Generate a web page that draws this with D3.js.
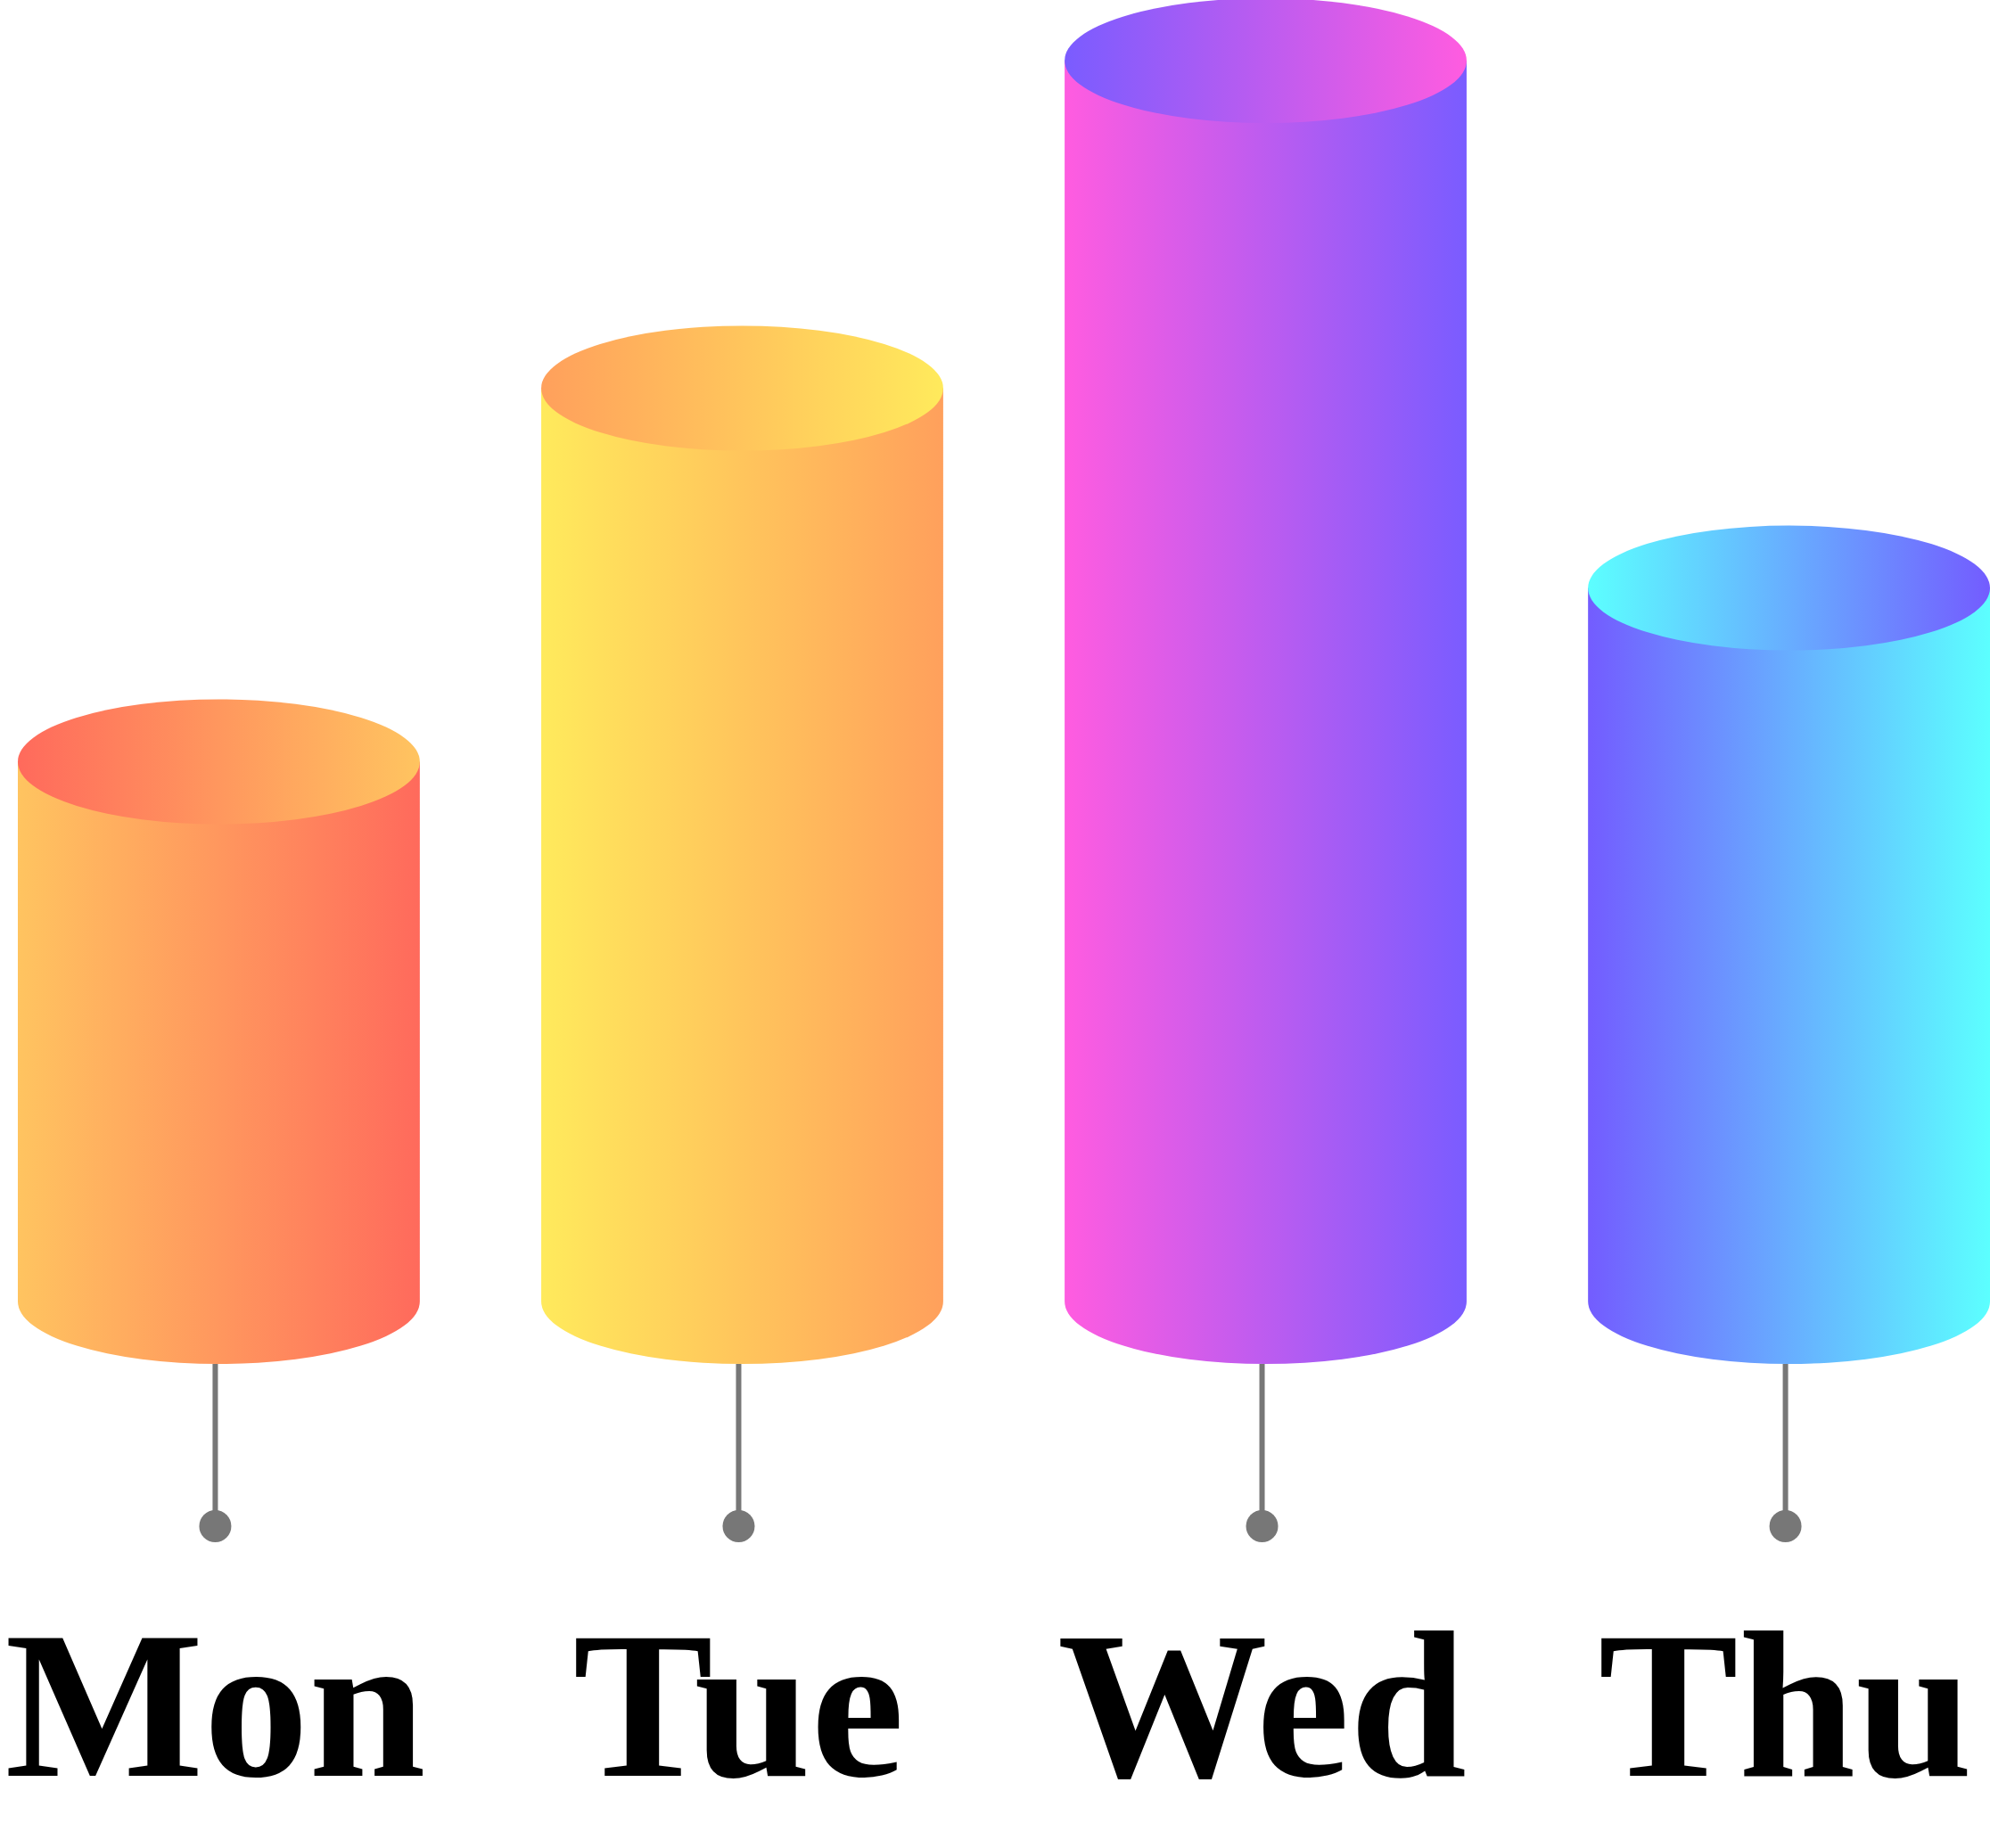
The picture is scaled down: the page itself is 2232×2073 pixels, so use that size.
<!DOCTYPE html>
<html><head><meta charset="utf-8">
<script src="https://cdn.jsdelivr.net/npm/d3@7"></script>
<style>body{margin:0;background:#fff}</style></head>
<body><svg id="c" width="2232" height="2073"></svg>
<script>
const categories = ["Mon","Tue","Wed","Thu"];
const values = [43.5, 73.6, 100, 57.5];
const colorA = ["#FFC460","#FFEA5C","#FF5CE0","#735CFF"];
const colorB = ["#FF6A5C","#FFA05C","#7A5CFF","#5CFFFF"];

const svg = d3.select("#c");
const x = d3.scaleBand().domain(categories).range([20, 2232 + (2232-20)/4*0.23/0.77*0]).paddingInner(0.232).paddingOuter(0);
x.range([20, 2232]);
const y = d3.scaleLinear().domain([0, 100]).range([1460, 68]);
const rx = x.bandwidth()/2, ry = 70;
const defs = svg.append("defs");
categories.forEach((c,i)=>{
  const g1 = defs.append("linearGradient").attr("id","b"+i);
  g1.append("stop").attr("offset","0%").attr("stop-color",colorA[i]);
  g1.append("stop").attr("offset","100%").attr("stop-color",colorB[i]);
  const g2 = defs.append("linearGradient").attr("id","t"+i);
  g2.append("stop").attr("offset","0%").attr("stop-color",colorB[i]);
  g2.append("stop").attr("offset","100%").attr("stop-color",colorA[i]);
});
const g = svg.selectAll("g.bar").data(categories).join("g");
g.each(function(c,i){
  const s = d3.select(this);
  const cx = x(c) + rx, x0 = x(c), x1 = x(c) + 2*rx;
  const yb = y(0), yt = y(values[i]);
  // stem
  s.append("line").attr("x1",cx-4).attr("x2",cx-4).attr("y1",yb+ry).attr("y2",1712)
    .attr("stroke","#777").attr("stroke-width",6);
  s.append("circle").attr("cx",cx-4).attr("cy",1712).attr("r",18).attr("fill","#777");
  s.append("path").attr("d",`M${x0},${yt}L${x0},${yb}A${rx},${ry} 0 0 0 ${x1},${yb}L${x1},${yt}Z`)
    .attr("fill",`url(#b${i})`);
  s.append("ellipse").attr("cx",cx).attr("cy",yt).attr("rx",rx).attr("ry",ry)
    .attr("fill",`url(#t${i})`);
  s.append("text").attr("x",cx-4).attr("y",1992).attr("text-anchor","middle")
    .attr("font-family","Liberation Serif, Times New Roman, serif").attr("font-weight","bold")
    .attr("font-size",236).attr("fill","#000").text(c);
});
</script></body></html>
